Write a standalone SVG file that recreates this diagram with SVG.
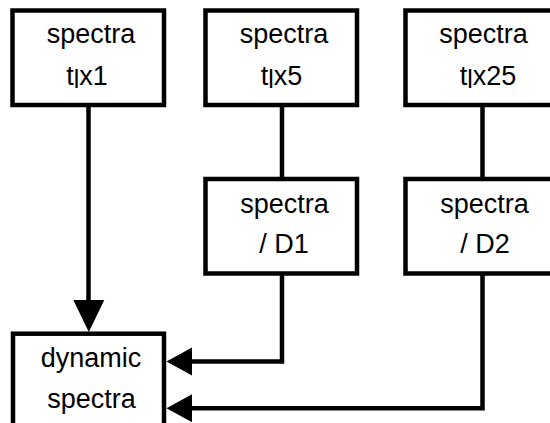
<svg xmlns="http://www.w3.org/2000/svg" width="550" height="423" viewBox="0 0 550 423">
<style>
.box{fill:#fff;stroke:#000;stroke-width:4.5}
.lbl{font-family:"Liberation Sans",Arial,sans-serif;font-size:27px;fill:#000;text-anchor:middle}
.sub{font-size:25px}
.conn{fill:none;stroke:#000;stroke-width:4.5}
.head{fill:#000;stroke:none}
</style>
<rect width="550" height="423" fill="#fff"/>
<g id="connectors">
<path class="conn" d="M88.5,105 V301"/>
<polygon class="head" points="73.3,300 104.3,300 88.8,332"/>
<path class="conn" d="M282,105 V179"/>
<path class="conn" d="M482.5,105 V179"/>
<path class="conn" d="M282,273.5 V361.5 H191"/>
<polygon class="head" points="192,347.5 192,375.5 166.5,361.5"/>
<path class="conn" d="M482.5,273.5 V408.3 H191"/>
<polygon class="head" points="192,394.3 192,422.3 166.5,408.3"/>
</g>
<g id="n1">
<rect class="box" x="12.5" y="10.5" width="151.5" height="94.5"/>
<text class="lbl" x="91" y="43.3">spectra</text>
<text class="lbl" x="87" y="85">t<tspan class="sub" dy="3">l</tspan><tspan dy="-3">x1</tspan></text>
</g>
<g id="n2">
<rect class="box" x="205.5" y="10.5" width="151.5" height="94.5"/>
<text class="lbl" x="284" y="43.3">spectra</text>
<text class="lbl" x="281.5" y="85">t<tspan class="sub" dy="3">l</tspan><tspan dy="-3">x5</tspan></text>
</g>
<g id="n3">
<rect class="box" x="405.5" y="10.5" width="151.5" height="94.5"/>
<text class="lbl" x="483.5" y="43.3">spectra</text>
<text class="lbl" x="488" y="85">t<tspan class="sub" dy="3">l</tspan><tspan dy="-3">x25</tspan></text>
</g>
<g id="n4">
<rect class="box" x="205.5" y="179" width="151.5" height="94.5"/>
<text class="lbl" x="284.5" y="212.7">spectra</text>
<text class="lbl" x="284" y="252.7">/ D1</text>
</g>
<g id="n5">
<rect class="box" x="405.5" y="179" width="151.5" height="94.5"/>
<text class="lbl" x="484.5" y="212.7">spectra</text>
<text class="lbl" x="485" y="252.7">/ D2</text>
</g>
<g id="n6">
<rect class="box" x="13" y="333.7" width="151" height="120"/>
<text class="lbl" x="91" y="367.3">dynamic</text>
<text class="lbl" x="91.5" y="408.3">spectra</text>
</g>
</svg>
